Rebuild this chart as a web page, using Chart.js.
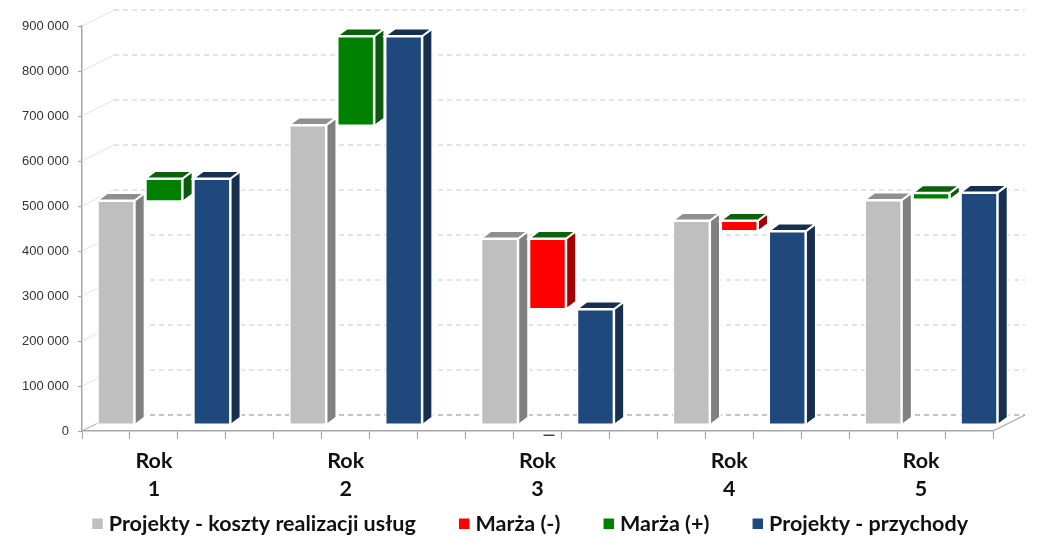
<!DOCTYPE html>
<html>
<head>
<meta charset="utf-8">
<style>
    html, body { margin: 0; padding: 0; background: #fff; overflow: hidden; }
    canvas { display: block; }
</style>
<script src="https://cdn.jsdelivr.net/npm/chart.js@4/dist/chart.umd.min.js"></script>
</head>
<body>
<canvas id="chart" width="1048" height="545"></canvas>
<script>
const years = ['1', '2', '3', '4', '5'];
const yTicks = [0, 100000, 200000, 300000, 400000, 500000, 600000, 700000, 800000, 900000];
const costs = [500000, 668000, 415500, 455500, 501000];
const marginMinus = [null, null, [258000, 415500], [431000, 455500], null];
const marginPlus = [[497000, 549000], [665500, 865500], null, null, [501000, 517000]];
const revenue = [549000, 865500, 259000, 432000, 518000];

// each year takes 4 slots on the axis: cost, margin, revenue, empty (last one has no empty slot)
const SLOTS = years.length * 4 - 1;

function slotted(values, offset) {
    const out = new Array(SLOTS).fill(null);
    values.forEach((v, i) => { out[i * 4 + offset] = v; });
    return out;
}

const labels = new Array(SLOTS).fill('');
years.forEach((y, i) => { labels[i * 4 + 1] = ['Rok', y]; });

// 3d look
const WALL_DX = 32, WALL_DY = -16;
const BAR_SHIFT_X = 10, BAR_SHIFT_Y = -5.5;
const DEPTH_DX = 10, DEPTH_DY = -7.5;

function poly(ctx, points, fill) {
    ctx.beginPath();
    points.forEach((p, i) => i ? ctx.lineTo(p[0], p[1]) : ctx.moveTo(p[0], p[1]));
    ctx.closePath();
    ctx.fillStyle = fill;
    ctx.fill();
    ctx.lineWidth = 2;
    ctx.strokeStyle = '#fff';
    ctx.stroke();
}

const scene3d = {
    id: 'scene3d',
    afterLayout(chart) {
        chart.legend.left += 36;
        chart.legend.right += 36;
        chart.legend.top = 465;
    },
    beforeDatasetsDraw(chart) {
        const { ctx, chartArea: area, scales: { y } } = chart;
        ctx.save();
        yTicks.forEach(v => {
            const py = y.getPixelForValue(v);
            ctx.setLineDash([5, 4]);
            ctx.lineWidth = v === 0 ? 1.2 : 1.5;
            ctx.strokeStyle = v === 0 ? '#8c8c8c' : '#dcdcdc';
            ctx.beginPath();
            ctx.moveTo(area.left + WALL_DX, py + WALL_DY);
            ctx.lineTo(area.right + WALL_DX, py + WALL_DY);
            ctx.stroke();
            ctx.setLineDash([]);
            ctx.lineWidth = 1;
            ctx.strokeStyle = v === 0 ? '#a6a6a6' : '#e2e2e2';
            ctx.beginPath();
            ctx.moveTo(area.left, py);
            ctx.lineTo(area.left + WALL_DX, py + WALL_DY);
            ctx.stroke();
        });
        // floor edge on the right
        const floor = y.getPixelForValue(0);
        ctx.strokeStyle = '#a6a6a6';
        ctx.lineWidth = 1.2;
        ctx.beginPath();
        ctx.moveTo(area.right, floor);
        ctx.lineTo(area.right + WALL_DX, floor + WALL_DY);
        ctx.stroke();
        ctx.restore();

        ctx.save();
        ctx.translate(BAR_SHIFT_X, BAR_SHIFT_Y);
        // side and top faces go under the front faces
        chart.data.datasets.forEach((ds, d) => {
            chart.getDatasetMeta(d).data.forEach((bar, i) => {
                if (ds.data[i] === null) return;
                const p = bar.getProps(['x', 'y', 'base', 'width'], true);
                const left = p.x - p.width / 2, right = p.x + p.width / 2;
                const top = Math.min(p.y, p.base), bottom = Math.max(p.y, p.base);
                poly(ctx, [[right, top], [right + DEPTH_DX, top + DEPTH_DY], [right + DEPTH_DX, bottom + DEPTH_DY], [right, bottom]], ds.sideColor);
                poly(ctx, [[left, top], [left + DEPTH_DX, top + DEPTH_DY], [right + DEPTH_DX, top + DEPTH_DY], [right, top]], ds.topColor);
            });
        });
    },
    afterDatasetsDraw(chart) {
        chart.ctx.restore();
    },
    afterDraw(chart) {
        // small stray dash under the axis at Rok 3
        const { ctx, scales: { x, y } } = chart;
        ctx.fillStyle = '#444';
        ctx.fillRect(x.getPixelForValue(9) + 6, y.getPixelForValue(0) + 3.5, 11, 1.5);
    }
};

const barBase = { borderColor: '#fff', borderWidth: 1.5, borderSkipped: false };

new Chart(document.getElementById('chart').getContext('2d'), {
    type: 'bar',
    plugins: [scene3d],
    data: {
        labels: labels,
        datasets: [
            { ...barBase, label: 'Projekty - koszty realizacji usług', data: slotted(costs, 0), backgroundColor: '#bfbfbf', sideColor: '#808080', topColor: '#8f8f8f' },
            { ...barBase, label: 'Marża (-)', data: slotted(marginMinus, 1), backgroundColor: '#ff0000', sideColor: '#a50000', topColor: '#0b620b' },
            { ...barBase, label: 'Marża (+)', data: slotted(marginPlus, 1), backgroundColor: '#008000', sideColor: '#0b5a0b', topColor: '#0b620b' },
            { ...barBase, label: 'Projekty - przychody', data: slotted(revenue, 2), backgroundColor: '#1f497d', sideColor: '#17304f', topColor: '#17304f' }
        ]
    },
    options: {
        responsive: false,
        animation: false,
        grouped: false,
        barPercentage: 0.78,
        categoryPercentage: 1,
        layout: { padding: { top: 26, right: 55, left: 0, bottom: 0 } },
        plugins: {
            tooltip: { enabled: false },
            legend: {
                position: 'bottom',
                maxHeight: 40,
                labels: {
                    usePointStyle: true,
                    pointStyle: 'rect',
                    boxWidth: 1,
                    boxHeight: 12,
                    padding: 48,
                    color: '#111',
                    font: { family: 'Lato', size: 21.5, weight: 'bold' }
                }
            }
        },
        scales: {
            x: {
                afterFit: scale => { scale.height = 74; },
                grid: { offset: true, drawOnChartArea: false, tickLength: 8, tickColor: '#a6a6a6', tickWidth: 1.2 },
                border: { color: '#a6a6a6', width: 1.5 },
                ticks: {
                    autoSkip: false,
                    maxRotation: 0,
                    padding: 8,
                    color: '#111',
                    font: { family: 'Lato', size: 21.5, weight: 'bold', lineHeight: 1.3 }
                }
            },
            y: {
                min: 0,
                max: 900000,
                afterFit: scale => { scale.width = 82; },
                afterBuildTicks: scale => { scale.ticks = yTicks.map(v => ({ value: v })); },
                grid: { drawOnChartArea: false, tickLength: 4, tickColor: '#a6a6a6', tickWidth: 1.2 },
                border: { color: '#a6a6a6', width: 1.5 },
                ticks: {
                    padding: 9,
                    color: '#333',
                    font: { family: 'Liberation Sans', size: 13 },
                    callback: v => String(v).replace(/\B(?=(\d{3})+$)/g, ' ')
                }
            }
        }
    }
});
</script>
</body>
</html>
